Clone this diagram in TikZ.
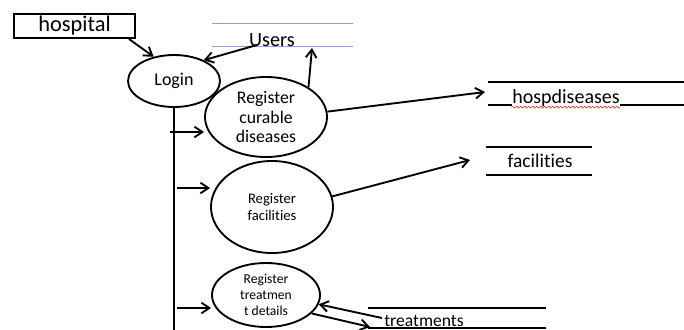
\documentclass[tikz,border=0pt]{standalone}
\usepackage{fontspec}
\setmainfont[Ligatures=NoCommon]{Carlito}
\usetikzlibrary{shapes.geometric,arrows.meta,calc,decorations.pathmorphing}
\newdimen\pxu \pxu=0.75pt
\begin{document}
\begin{tikzpicture}[x=0.75pt,y=-0.75pt,
  line width=1.4pt,
  arr/.style={-{Straight Barb[length=6pt,width=8pt]}},
  proc/.style={ellipse,draw,line width=1.4pt,inner sep=0pt,align=center},
  store/.style={line width=1.4pt},
  lbl/.style={inner sep=0pt,fill=white}]
\useasboundingbox (0,0) rectangle (684,329);
% external entity
\node[draw,line width=1.5pt,minimum width=121\pxu,minimum height=24\pxu,inner sep=0pt,font=\fontsize{16.8}{18}\selectfont] (hosp) at (74.5,26) {hospital};
% processes
\node[proc,minimum width=92\pxu,minimum height=52\pxu,font=\fontsize{13.5}{15}\selectfont] (login) at (174,81) {Login};
\node[proc,minimum width=122\pxu,minimum height=80\pxu,font=\fontsize{13.3}{14.5}\selectfont] (rcd) at (266,117) {Register\\curable\\diseases};
\node[proc,minimum width=122\pxu,minimum height=92\pxu,font=\fontsize{11}{13}\selectfont] (rf) at (272,207) {Register\\facilities};
\node[proc,minimum width=108\pxu,minimum height=64\pxu,font=\fontsize{10.2}{12}\selectfont] (rtd) at (266,295) {Register\\treatmen\\t details};
% Users store
\draw[line width=0.6pt,color={rgb,255:red,140;green,165;blue,200}] (212,23) -- (353,23) (212,46) -- (353,46);
\node[inner sep=0pt,font=\fontsize{15.2}{17}\selectfont,anchor=base] (users) at (272,46) {Users};
% hospdiseases store
\draw[store] (488,82) -- (684,82) (488,105) -- (684,105);
\node[lbl,font=\fontsize{15}{17}\selectfont,anchor=base] (hd) at (566,103) {hospdiseases};
\draw[red!80,line width=0.5pt,decorate,decoration={snake,amplitude=0.6pt,segment length=3pt}] (hd.south west) -- (hd.south east);
% facilities store
\draw[store] (486,147) -- (592,147) (486,175) -- (592,175);
\node[inner sep=0pt,font=\fontsize{14.6}{16}\selectfont] (fac) at (540,161) {facilities};
% treatments store
\draw[store] (368,308) -- (546,308) (368,328) -- (546,328);
\node[lbl,font=\fontsize{13.2}{15}\selectfont,anchor=base] (tr) at (424,326.5) {treatments};
% coordinates
\coordinate (usersIn) at (257,45);
\coordinate (usersTip) at (312,48);
\coordinate (hdTip) at (485,92);
\coordinate (facTip) at (470,160);
\coordinate (trOut) at (382,318);
\coordinate (trTip) at (370,327);
\coordinate (bottom) at (174,332);
\coordinate (b1) at (170,132);
\coordinate (b2) at (177,188);
\coordinate (b3) at (177,308);
% connectors
\draw[arr] ($(hosp.south east)+(-7,0)$) -- (login.130);
\draw[arr] (usersIn) -- (login.35);
\draw[arr] (rcd.35) -- (usersTip);
\draw[arr] (rcd.5) -- (hdTip);
\draw[arr] (rf.10) -- (facTip);
\draw[line width=1.6pt] (login.south) -- (bottom);
\draw[arr] (b1) -- (b1 -| rcd.west);
\draw[arr] (b2) -- (b2 -| rf.west);
\draw[arr] (b3) -- (b3 -| rtd.west);
\draw[arr] (trOut) -- (rtd.-10);
\draw[arr] (rtd.-22) -- (trTip);
\end{tikzpicture}
\end{document}
